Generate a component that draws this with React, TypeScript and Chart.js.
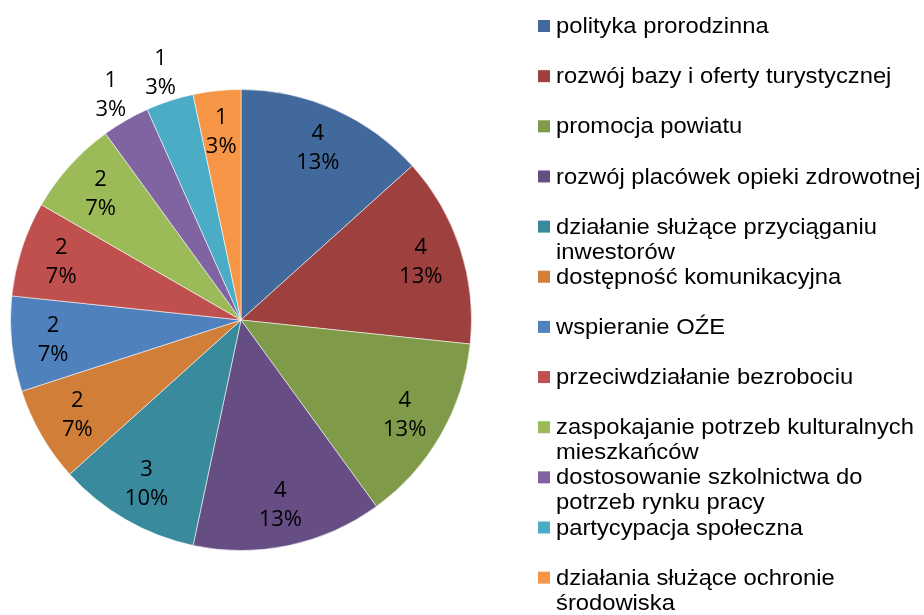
import React, { useEffect, useRef } from "react";
import { Chart, registerables } from "chart.js";

Chart.register(...registerables);

const categories: string[] = [
  "polityka prorodzinna",
  "rozwój bazy i oferty turystycznej",
  "promocja powiatu",
  "rozwój placówek opieki zdrowotnej",
  "działanie służące przyciąganiu inwestorów",
  "dostępność komunikacyjna",
  "wspieranie OŹE",
  "przeciwdziałanie bezrobociu",
  "zaspokajanie potrzeb kulturalnych mieszkańców",
  "dostosowanie szkolnictwa do potrzeb rynku pracy",
  "partycypacja społeczna",
  "działania służące ochronie środowiska",
];

const values: number[] = [4, 4, 4, 4, 3, 2, 2, 2, 2, 1, 1, 1];

const colors: string[] = [
  "#41699C",
  "#9E413E",
  "#7F9A48",
  "#664E84",
  "#3A8A9E",
  "#D07E38",
  "#4F81BD",
  "#C0504D",
  "#9BBB59",
  "#8064A2",
  "#4BACC6",
  "#F79646",
];

// slices whose data labels sit outside the pie
const outsideLabelIdx: number[] = [9, 10];

const LABEL_FONT = '22px "Open Sans", "Noto Sans", sans-serif';
const LEGEND_FONT = '22px "Liberation Sans", Arial, sans-serif';
const LEGEND_SCALE_X = 1.08;

const sliceLabels = {
  id: "sliceLabels",
  afterDatasetsDraw(chart: any) {
    const ctx: CanvasRenderingContext2D = chart.ctx;
    const meta = chart.getDatasetMeta(0);
    const data: number[] = chart.data.datasets[0].data;
    const total = data.reduce((a, b) => a + b, 0);
    ctx.save();
    ctx.font = LABEL_FONT;
    ctx.fillStyle = "#000";
    ctx.textAlign = "center";
    ctx.textBaseline = "middle";
    meta.data.forEach((arc: any, i: number) => {
      const p = arc.getProps(["x", "y", "startAngle", "endAngle", "outerRadius"], true);
      const mid = (p.startAngle + p.endAngle) / 2;
      const outside = outsideLabelIdx.includes(i);
      const r = p.outerRadius * (outside ? 1.13 : 0.82);
      const cx = p.x + Math.cos(mid) * r;
      const cy = p.y + Math.sin(mid) * r;
      const pct = Math.round((data[i] / total) * 100) + "%";
      ctx.fillText(String(data[i]), cx, cy - 14);
      ctx.fillText(pct, cx, cy + 15);
    });
    ctx.restore();
  },
};

function wrap(ctx: CanvasRenderingContext2D, text: string, maxW: number): string[] {
  const words = text.split(" ");
  const lines: string[] = [];
  let cur = "";
  for (const w of words) {
    const test = cur ? cur + " " + w : w;
    if (cur && ctx.measureText(test).width * LEGEND_SCALE_X > maxW) {
      lines.push(cur);
      cur = w;
    } else {
      cur = test;
    }
  }
  if (cur) lines.push(cur);
  return lines;
}

const sideLegend = {
  id: "sideLegend",
  afterDraw(chart: any) {
    const ctx: CanvasRenderingContext2D = chart.ctx;
    const labels: string[] = chart.data.labels;
    const bg: string[] = chart.data.datasets[0].backgroundColor;
    const boxX = 538;
    const textX = 556;
    const top = 26;
    const step = 50.15;
    const lineH = 25;
    const maxW = chart.width - textX + 2;
    ctx.save();
    ctx.font = LEGEND_FONT;
    ctx.textBaseline = "middle";
    ctx.textAlign = "left";
    labels.forEach((lab, i) => {
      const y = top + i * step;
      ctx.fillStyle = bg[i];
      ctx.fillRect(boxX, y - 6, 12, 12);
      ctx.fillStyle = "#000";
      const lines = wrap(ctx, lab, maxW);
      lines.forEach((ln, j) => {
        ctx.save();
        ctx.translate(textX, y + 1 + j * lineH);
        ctx.scale(LEGEND_SCALE_X, 1);
        ctx.fillText(ln, 0, 0);
        ctx.restore();
      });
    });
    ctx.restore();
  },
};

export default function App() {
  const ref = useRef<HTMLCanvasElement | null>(null);
  useEffect(() => {
    if (!ref.current) return;
    const chart = new Chart(ref.current, {
      type: "pie",
      data: {
        labels: categories,
        datasets: [
          {
            data: values,
            backgroundColor: colors,
            borderColor: "rgba(255,255,255,0.55)",
            borderWidth: 1,
          },
        ],
      },
      options: {
        responsive: false,
        animation: false,
        rotation: 0,
        layout: { padding: { left: 10, right: 452, top: 89, bottom: 64 } },
        plugins: {
          legend: { display: false },
          tooltip: { enabled: false },
          title: { display: false },
        },
      },
      plugins: [sliceLabels, sideLegend],
    });
    return () => chart.destroy();
  }, []);
  return (
    <div style={{ position: "absolute", left: 0, top: 0, width: 924, height: 615, background: "#fff" }}>
      <canvas ref={ref} width={924} height={615} style={{ display: "block" }} />
    </div>
  );
}
